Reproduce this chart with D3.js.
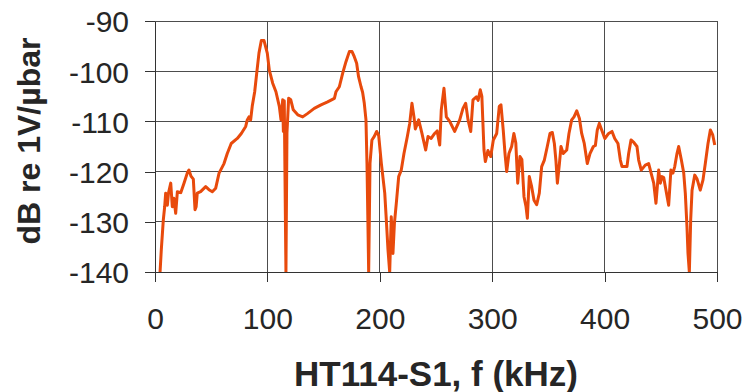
<!DOCTYPE html>
<head>
  <meta charset="utf-8">
  <script src="https://d3js.org/d3.v7.min.js"></script>
  <style>
    body { margin: 0; background: #fff; }
    svg { font-family: "Liberation Sans", Arial, sans-serif; }
    .tick text { font-size: 30px; fill: #262626; }
    .grid line { stroke: #4d4d4d; stroke-width: 1px; shape-rendering: crispEdges; }
    .axis path, .axis line { stroke: #333; shape-rendering: crispEdges; }
    .title { font-weight: bold; fill: #262626; }
    .line { fill: none; stroke: #e84a0c; stroke-width: 3px; stroke-linejoin: round; }
  </style>
</head>

<body>
  <script>
    // frequency (kHz) and level (dB re 1V/ubar)
    var freq = [4.5, 5.6, 7.4, 8.6, 9.5, 11, 12, 14, 15.4, 16.8, 18.4, 19.9, 22.9, 25.8, 28.7, 30.2,
      32, 34.1, 35.6, 36.6, 37.6, 40.6, 45.1, 48, 51, 54, 57, 61.4, 64.3, 67.8, 73.2, 76.8, 80.7,
      82.1, 83.6, 85.1, 86.5, 88.7, 90.5, 92.5, 94.6, 97, 99.9, 101.7, 104.7, 107.6, 110.6, 112.1,
      113.6, 114.2, 115, 116.5, 117.4, 118.9, 120.8, 123, 127, 131.4, 135.9, 141.7, 147.7, 153.6,
      159.6, 161, 164, 167, 169.9, 172.9, 175.3, 177.3, 179.4, 181.1, 183.3, 184.7, 186.2, 187.7,
      188.6, 190.1, 191.3, 193, 195.1, 197.2, 199, 201.4, 204.4, 205.8, 207.3, 208.8, 210.2, 211.7,
      213, 214.7, 216.8, 219.1, 221.5, 224.5, 226.6, 228.6, 230.4, 231.6, 234.6, 237.5, 240.8,
      242.9, 245.7, 248.8, 251, 253.3, 254.7, 257.1, 259.2, 262.2, 266.6, 271.1, 274, 276.4, 278.5,
      280.9, 282.9, 285.9, 287.5, 289.4, 290.8, 292.7, 293.9, 296.2, 298.7, 301, 304, 306.3, 307.8,
      309.8, 311.4, 312.9, 314.9, 317.3, 319.3, 321, 322.7, 324.7, 326.4, 328.3, 330.1, 331.3, 333,
      335.1, 337.2, 339.6, 341.9, 344, 346.4, 349, 351.4, 353.5, 355.3, 356.7, 358, 359.8, 361.2,
      363.2, 366.3, 368.3, 370.7, 372.8, 375.2, 377.6, 379.6, 381.9, 384.6, 387, 390, 391.8, 393.5,
      395.3, 397.4, 400.2, 403.6, 406.6, 409, 411.9, 414, 415.5, 419.9, 421.4, 423.5, 426, 428.8,
      430.3, 432.6, 436.2, 439.2, 442.2, 443.7, 445.7, 448.1, 449.6, 451, 452.6, 454.6, 457, 459,
      460.8, 462.4, 464.4, 465.9, 468.3, 470.4, 471.8, 473.3, 474.2, 475.4, 476.6, 477.8, 480.2,
      482.3, 485.1, 487.5, 489.6, 492, 494.1, 496.2, 498];
    var level = [-140, -135.6, -129.6, -127, -124.3, -126.7, -124.3, -122.3, -127, -125.3, -128.3,
      -124, -124.2, -122.3, -120.3, -119.7, -120.9, -121.5, -127.6, -127, -124.3, -124, -123,
      -123.6, -124, -123.3, -120.3, -118.4, -116.4, -114.4, -113.4, -112.4, -111, -109.7, -109.1,
      -109.7, -107, -104.1, -100.4, -96.4, -93.9, -93.9, -96.4, -99.8, -102.4, -104.1, -107,
      -109.7, -105.7, -112, -105.9, -140, -112.3, -105.4, -105.7, -107.7, -108.7, -109.1, -108.4,
      -107.4, -106.7, -106.1, -105.4, -104.1, -103.1, -100.4, -98.1, -96.1, -96.1, -97.1, -98.4,
      -101.1, -103.1, -104.2, -106.4, -109.7, -118.4, -140, -118.3, -113.7, -113, -112, -112.8,
      -118.4, -124.3, -129.6, -135.6, -140, -129, -136.3, -130.3, -126.3, -121, -119.7, -116.4,
      -113, -110.4, -106.4, -109.1, -111.5, -109.7, -112.4, -115.7, -113, -113.4, -112.4, -111.9,
      -114.7, -107.7, -103.4, -109.1, -110, -112, -109.7, -107.4, -106.4, -109.7, -112, -105.7,
      -105.1, -105.8, -103.7, -105, -115.7, -118, -115.8, -117, -113.7, -112.4, -107, -106.7,
      -111.7, -116.4, -120, -116.4, -115, -112.4, -114.3, -122.3, -117, -117.6, -125, -127, -129.3,
      -121, -123, -125.7, -126.6, -124.3, -119, -117.7, -115, -112.4, -112.2, -114.4, -117.8,
      -122.3, -118.4, -115, -116.4, -115.7, -112.4, -109.7, -109.1, -107.9, -109.4, -112.4, -114.4,
      -118.4, -116.4, -115, -114.8, -111.7, -110.4, -111.7, -113.4, -112.4, -112, -113.4, -114.4,
      -117.7, -119, -119, -116.4, -113.7, -114.2, -115, -117.7, -119.7, -118.7, -118.4, -121,
      -122.3, -126.3, -119.7, -122.3, -121, -121.2, -123.7, -126.7, -119.7, -120.3, -119, -116.4,
      -115, -117.7, -120.3, -124.3, -131, -136.3, -140, -129.6, -123.7, -120.7, -121.5, -123.7,
      -121.7, -118.4, -114.4, -111.7, -112.7, -114.7];
    var xTicks = [0, 100, 200, 300, 400, 500];
    var yTicks = [-90, -100, -110, -120, -130, -140];

    var margin = { top: 21, right: 34, bottom: 120, left: 155 };
    var width = 751 - margin.left - margin.right,
        height = 392 - margin.top - margin.bottom;

    var svg = d3.select("body").append("svg")
      .attr("width", 751)
      .attr("height", 392)
    .append("g")
      .attr("transform", "translate(" + margin.left + "," + margin.top + ")");

    var x = d3.scaleLinear().domain([0, 500]).range([0, width]);
    var y = d3.scaleLinear().domain([-140, -90]).range([height, 0]);

    svg.append("clipPath")
      .attr("id", "plot")
    .append("rect")
      .attr("x", 0).attr("y", -2)
      .attr("width", width).attr("height", height + 2);

    // gridlines
    svg.append("g")
      .attr("class", "grid")
      .selectAll("line.h")
      .data(yTicks)
    .enter().append("line")
      .attr("x1", 0).attr("x2", width)
      .attr("y1", function(d) { return y(d); })
      .attr("y2", function(d) { return y(d); });

    svg.append("g")
      .attr("class", "grid")
      .selectAll("line.v")
      .data(xTicks.slice(1))
    .enter().append("line")
      .attr("y1", 0).attr("y2", height)
      .attr("x1", function(d) { return x(d); })
      .attr("x2", function(d) { return x(d); });

    // plain hyphen for negatives, like the original
    var fmt = function(d) { return String(d); };

    var xAxis = svg.append("g")
      .attr("class", "axis")
      .attr("transform", "translate(0," + height + ")")
      .call(d3.axisBottom(x).tickValues(xTicks).tickFormat(fmt)
        .tickSize(10).tickPadding(26).tickSizeOuter(0));

    var yAxis = svg.append("g")
      .attr("class", "axis")
      .call(d3.axisLeft(y).tickValues(yTicks).tickFormat(fmt)
        .tickSize(10).tickPadding(16).tickSizeOuter(0));

    yAxis.selectAll(".tick text").attr("dy", "0.36em");

    var line = d3.line()
      .x(function(d, i) { return x(freq[i]); })
      .y(function(d) { return y(d); });

    svg.append("path")
      .attr("class", "line")
      .attr("clip-path", "url(#plot)")
      .attr("d", line(level));

    svg.append("text")
      .attr("class", "title")
      .attr("x", width / 2)
      .attr("y", 365)
      .attr("text-anchor", "middle")
      .style("font-size", "35px")
      .text("HT114-S1, f (kHz)");

    svg.append("text")
      .attr("class", "title")
      .attr("transform", "translate(-115," + 120 + ") rotate(-90)")
      .attr("text-anchor", "middle")
      .style("font-size", "32px")
      .text("dB re 1V/µbar");
  </script>
</body>
